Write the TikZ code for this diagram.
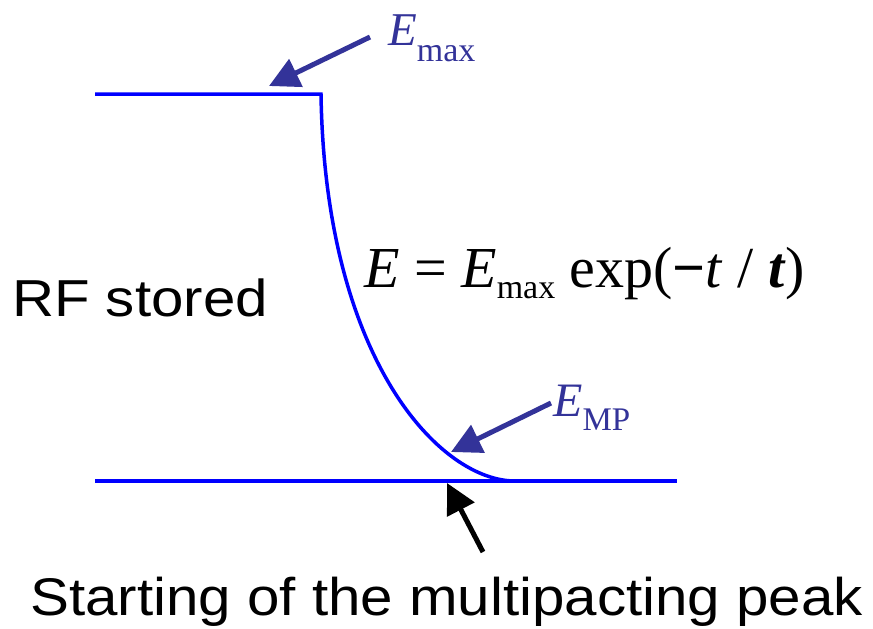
\documentclass[tikz,border=0pt]{standalone}
\usepackage{fontspec}
\usepackage{graphicx}
\setmainfont{Liberation Serif}
\newfontfamily\arialf{Liberation Sans}
\usetikzlibrary{arrows.meta}
\definecolor{curveblue}{RGB}{0,0,255}
\definecolor{arrowblue}{RGB}{51,51,153}
\tikzset{
  level/.style={draw=curveblue, line width=3.5pt},
  bluearrow/.style={draw=arrowblue, line width=5pt, -{Triangle[length=30pt,width=30pt]}},
  blackarrow/.style={draw=black, line width=5pt, -{Triangle[length=30pt,width=30pt]}},
  lbl/.style={inner sep=0pt, anchor=base west},
}
\begin{document}
\begin{tikzpicture}[x=1pt,y=-1pt]
\useasboundingbox (0,0) rectangle (873,629);
% levels and decay curve
\coordinate (tl) at (95,94);
\coordinate (corner) at (321,94);
\coordinate (foot) at (515,481);
\coordinate (bl) at (95,481);
\coordinate (br) at (677,481);
\draw[level] (bl) -- (br);
\draw[level, line join=miter] (tl) -- (corner) .. controls (325,360) and (440,481) .. (foot);
% labels
\node[lbl, text=arrowblue] (emax) at (388,45) {\fontsize{47}{47}\selectfont\textit{E}\raisebox{-17pt}{\fontsize{34}{34}\selectfont max}};
\node[lbl, text=arrowblue] (emp) at (553,416) {\fontsize{48}{48}\selectfont\textit{E}\raisebox{-14pt}{\fontsize{33}{33}\selectfont MP}};
\node[lbl] (eq) at (364,287) {\scalebox{1.0}[1]{\fontsize{58}{58}\selectfont\textit{E} = \textit{E}\raisebox{-11pt}{\fontsize{34}{34}\selectfont max} exp(\textbf{\symbol{"2212}}\textit{t} / \textbf{\textit{t}})}};
\node[lbl] (rf) at (12,316) {\scalebox{1.12}[1]{\arialf\fontsize{52}{52}\selectfont RF stored}};
\node[lbl] (start) at (30,615) {\scalebox{1.1}[1]{\arialf\fontsize{53}{53}\selectfont Starting of the multipacting peak}};
% arrows
\coordinate (a1s) at (370,37);
\coordinate (a1t) at (269,86);
\coordinate (a2s) at (551,403);
\coordinate (a2t) at (451,452);
\coordinate (a3s) at (483,552);
\coordinate (a3t) at (447,483);
\draw[bluearrow] (a1s) -- (a1t);
\draw[bluearrow] (a2s) -- (a2t);
\draw[blackarrow] (a3s) -- (a3t);
\end{tikzpicture}
\end{document}
